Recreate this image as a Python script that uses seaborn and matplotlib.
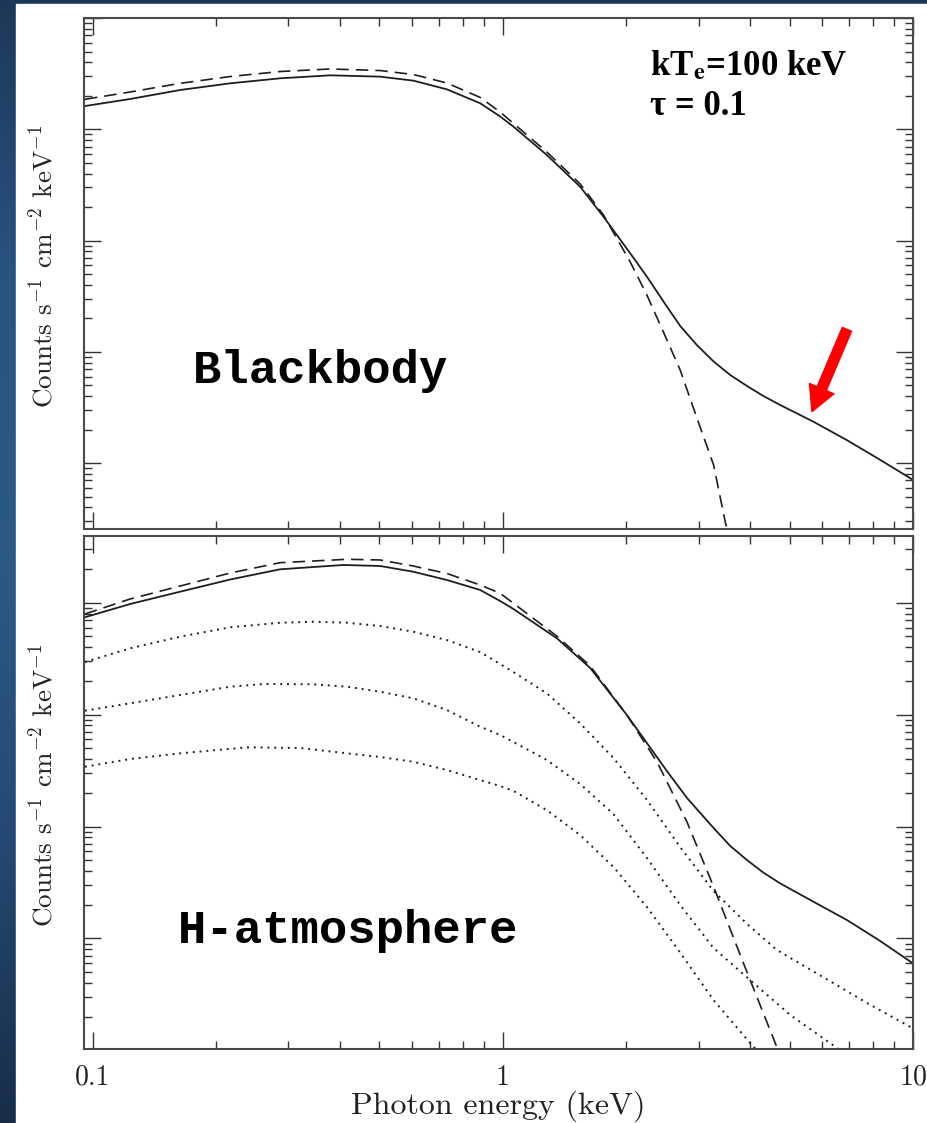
import numpy as np
import pandas as pd
import matplotlib
matplotlib.use("Agg")
import matplotlib.pyplot as plt
import seaborn as sns
from matplotlib.ticker import LogLocator, NullFormatter, FixedLocator, FixedFormatter
from matplotlib.patches import Rectangle

# ---- Blackbody seed spectrum (upper panel) ----
bb_comp_energy = [0.0957, 0.1233, 0.1633, 0.2162, 0.2862, 0.3791, 0.502, 0.6053,
                  0.7302, 0.8804, 0.985, 1.061, 1.280, 1.543, 1.759, 2.044, 2.245,
                  2.512, 2.706, 2.973, 3.264, 3.584, 3.937, 4.314, 4.746, 5.716,
                  6.902, 8.322, 10.0]
bb_comp_flux = [0.1618, 0.1871, 0.2254, 0.2588, 0.2871, 0.3055, 0.2972, 0.2735,
                0.2286, 0.1714, 0.1303, 0.1057, 0.0587, 0.0305, 0.0164, 0.00769,
                0.00474, 0.00255, 0.00171, 0.00115, 8.20e-4, 6.20e-4, 4.94e-4,
                4.02e-4, 3.33e-4, 2.36e-4, 1.61e-4, 1.07e-4, 7.08e-5]

bb_seed_energy = [0.0957, 0.1233, 0.1633, 0.2162, 0.2862, 0.3791, 0.502, 0.6053,
                  0.7302, 0.8804, 0.985, 1.280, 1.543, 1.759, 2.044, 2.245, 2.512,
                  2.706, 2.973, 3.264, 3.484, 3.686]
bb_seed_flux = [0.186, 0.2163, 0.2588, 0.2979, 0.3304, 0.3483, 0.3373, 0.3105,
                0.2606, 0.1932, 0.1429, 0.0625, 0.0323, 0.0170, 0.00643, 0.00324,
                0.00128, 6.87e-4, 2.54e-4, 9.64e-5, 2.98e-5, 1.35e-5]

# ---- Hydrogen atmosphere seed spectrum (lower panel) ----
h_comp_energy = [0.0957, 0.1233, 0.1633, 0.2162, 0.2862, 0.4078, 0.502, 0.6043,
                 0.7302, 0.8804, 0.985, 1.061, 1.354, 1.633, 2.006, 2.245, 2.512,
                 2.811, 3.264, 3.584, 3.937, 4.314, 4.746, 5.716, 6.902, 8.322,
                 10.0]
h_comp_flux = [0.0741, 0.0973, 0.1254, 0.1611, 0.1988, 0.2173, 0.2128, 0.1892,
               0.1596, 0.1299, 0.1035, 0.0879, 0.0481, 0.0261, 0.00991, 0.00557,
               0.00313, 0.00180, 9.70e-4, 6.70e-4, 5.02e-4, 3.88e-4, 3.10e-4,
               2.13e-4, 1.46e-4, 9.48e-5, 5.98e-5]

h_seed_energy = [0.0957, 0.1233, 0.1633, 0.2162, 0.2862, 0.417, 0.502, 0.6043,
                 0.7302, 0.8804, 0.985, 1.354, 1.633, 2.006, 2.375, 2.811, 3.264,
                 3.862, 4.615, 4.88]
h_seed_flux = [0.0793, 0.1079, 0.1409, 0.1841, 0.2278, 0.2443, 0.2408, 0.2128,
               0.1824, 0.1439, 0.1213, 0.0503, 0.0272, 0.00991, 0.00379, 0.00110,
               2.90e-4, 5.98e-5, 1.16e-5, 6.67e-6]

# Scattered components of increasing order
h_order1_energy = [0.0957, 0.1233, 0.1633, 0.2162, 0.2862, 0.3446, 0.417, 0.502,
                   0.6043, 0.7302, 0.8804, 0.985, 1.061, 1.280, 1.543, 1.861,
                   2.245, 2.706, 3.264, 3.937, 4.659, 6.393, 7.723, 10.0]
h_order1_flux = [0.0295, 0.0391, 0.0497, 0.0603, 0.0662, 0.0676, 0.0662, 0.0619,
                 0.0551, 0.0464, 0.0362, 0.0283, 0.0240, 0.0155, 0.00835,
                 0.00409, 0.00173, 6.56e-4, 2.65e-4, 1.35e-4, 7.87e-5, 3.99e-5,
                 2.65e-5, 1.57e-5]

h_order2_energy = [0.0957, 0.1233, 0.1633, 0.2162, 0.2602, 0.3446, 0.417, 0.502,
                   0.6043, 0.7302, 0.8804, 0.985, 1.061, 1.280, 1.543, 1.861,
                   2.245, 2.706, 3.264, 4.085, 5.020, 6.527, 7.44]
h_order2_flux = [0.01084, 0.01262, 0.01496, 0.01775, 0.01877, 0.01866, 0.01775,
                 0.01602, 0.01399, 0.01099, 0.00780, 0.00657, 0.00569, 0.00393,
                 0.00240, 0.00129, 5.23e-4, 1.99e-4, 8.20e-5, 3.99e-5, 2.07e-5,
                 1.05e-5, 7.39e-6]

h_order3_energy = [0.0957, 0.1233, 0.1633, 0.2378, 0.3203, 0.417, 0.502, 0.6043,
                   0.7302, 0.8804, 0.985, 1.061, 1.280, 1.543, 1.861, 2.245,
                   2.657, 3.264, 4.010, 4.487]
h_order3_flux = [0.00342, 0.00401, 0.00451, 0.00510, 0.00503, 0.00451, 0.00418,
                 0.00379, 0.00320, 0.00260, 0.00230, 0.00208, 0.00140, 8.39e-4,
                 4.35e-4, 1.91e-4, 8.20e-5, 2.81e-5, 1.16e-5, 7.39e-6]

x_tick_values = [0.1, 1, 10]
x_tick_labels = ["0.1", "1", "10"]
panel_titles = ["Blackbody", "H-atmosphere"]
param_lines = ["kT$_\\mathbf{e}$=100 keV", "\u03c4 = 0.1"]
y_label = r"Counts s$^{-1}$ cm$^{-2}$ keV$^{-1}$"
x_label = "Photon energy (keV)"

sns.set_theme(style="ticks")
plt.rcParams["font.family"] = ["cmr10", "DejaVu Serif"]
plt.rcParams["mathtext.fontset"] = "cm"
plt.rcParams["axes.unicode_minus"] = False

W, H = 928, 1123
fig = plt.figure(figsize=(W / 100, H / 100), dpi=100)

# slide background: blue gradient strip with a white plotting sheet
bg = fig.add_axes([0, 0, 1, 1], zorder=-10)
grad_stops = np.array([
    [0.11, 0.22, 0.35],
    [0.16, 0.33, 0.51],
    [0.17, 0.35, 0.53],
    [0.14, 0.29, 0.45],
    [0.09, 0.18, 0.29],
])
t = np.linspace(0, 1, 256)
grad = np.stack([np.interp(t, np.linspace(0, 1, 5), grad_stops[:, c]) for c in range(3)], axis=-1)
bg.imshow(grad[:, None, :], aspect="auto", extent=[0, 1, 0, 1])
bg.add_patch(Rectangle((16 / W, 0), 1, 1 - 4 / H, color="white", transform=bg.transAxes))
bg.set_xlim(0, 1)
bg.set_ylim(0, 1)
bg.axis("off")

ax_left = 84 / W
ax_w = (913 - 84) / W
ax_top = fig.add_axes([ax_left, 1 - 529.3 / H, ax_w, 511.3 / H])
ax_bot = fig.add_axes([ax_left, 1 - 1049 / H, ax_w, 513 / H])

line_col = "#1e1e1e"
dash_style = (0, (7.5, 4.2))
dot_style = (0, (1.0, 2.5))


def draw(ax, e, f, style, lw):
    df = pd.DataFrame({"energy": e, "flux": f})
    sns.lineplot(data=df, x="energy", y="flux", ax=ax, color=line_col, lw=lw,
                 linestyle=style, estimator=None, sort=True)


for ax in (ax_top, ax_bot):
    ax.set_xscale("log")
    ax.set_yscale("log")

draw(ax_top, bb_comp_energy, bb_comp_flux, "-", 1.3)
draw(ax_top, bb_seed_energy, bb_seed_flux, dash_style, 1.2)

draw(ax_bot, h_comp_energy, h_comp_flux, "-", 1.3)
draw(ax_bot, h_seed_energy, h_seed_flux, dash_style, 1.2)
for e, f in ((h_order1_energy, h_order1_flux),
             (h_order2_energy, h_order2_flux),
             (h_order3_energy, h_order3_flux)):
    draw(ax_bot, e, f, dot_style, 1.4)

ax_top.set_ylim(10 ** -4.594, 1.0)
ax_bot.set_ylim(10 ** -4.988, 10 ** -0.404)

for ax in (ax_top, ax_bot):
    ax.set_xlim(0.0952, 10.0)
    ax.xaxis.set_major_locator(FixedLocator(x_tick_values))
    ax.xaxis.set_minor_locator(LogLocator(base=10, subs=np.arange(2, 10)))
    ax.yaxis.set_major_locator(LogLocator(base=10, numticks=20))
    ax.yaxis.set_minor_locator(LogLocator(base=10, subs=np.arange(2, 10), numticks=20))
    ax.yaxis.set_major_formatter(NullFormatter())
    ax.yaxis.set_minor_formatter(NullFormatter())
    ax.xaxis.set_minor_formatter(NullFormatter())
    ax.tick_params(which="both", direction="in", top=True, right=True,
                   color="#333333", width=1.0)
    ax.tick_params(which="major", length=12)
    ax.tick_params(which="minor", length=5.8)
    for s in ax.spines.values():
        s.set_color("#4a4a4a")
        s.set_linewidth(1.5)
    ax.set_ylabel(y_label, fontsize=19.5, color="#222222")
    ax.yaxis.set_label_coords(-0.032, 0.515)
    ax.set_xlabel("")

ax_top.xaxis.set_major_formatter(NullFormatter())
ax_bot.xaxis.set_major_formatter(FixedFormatter(x_tick_labels))
ax_bot.tick_params(axis="x", which="major", labelsize=20, pad=11, labelcolor="#222222")
ax_bot.set_xlabel(x_label, fontsize=23, color="#222222", labelpad=0)

# panel captions
ax_top.text(0.1315, 0.286, panel_titles[0], transform=ax_top.transAxes,
            family="Liberation Mono", weight="bold", fontsize=34, color="black",
            va="baseline", ha="left")
ax_bot.text(0.1134, 0.207, panel_titles[1], transform=ax_bot.transAxes,
            family="Liberation Mono", weight="bold", fontsize=34, color="black",
            va="baseline", ha="left")

# Comptonization parameters
ax_top.text(0.683, 0.8885, param_lines[0], transform=ax_top.transAxes,
            family="Liberation Serif", weight="bold", fontsize=25, color="black",
            va="baseline", ha="left", math_fontfamily="stix")
ax_top.text(0.683, 0.81, param_lines[1], transform=ax_top.transAxes,
            family="Liberation Serif", weight="bold", fontsize=25, color="black",
            va="baseline", ha="left")

# arrow pointing at the Comptonized tail
ax_top.annotate("", xy=(5.67, 10 ** -3.537), xytext=(6.9, 10 ** -2.797),
                arrowprops=dict(arrowstyle="simple,head_length=1.5,head_width=1.6,tail_width=0.6",
                                color="#ff0000", shrinkA=0, shrinkB=0, mutation_scale=12))

fig.savefig("out.png", dpi=100)
